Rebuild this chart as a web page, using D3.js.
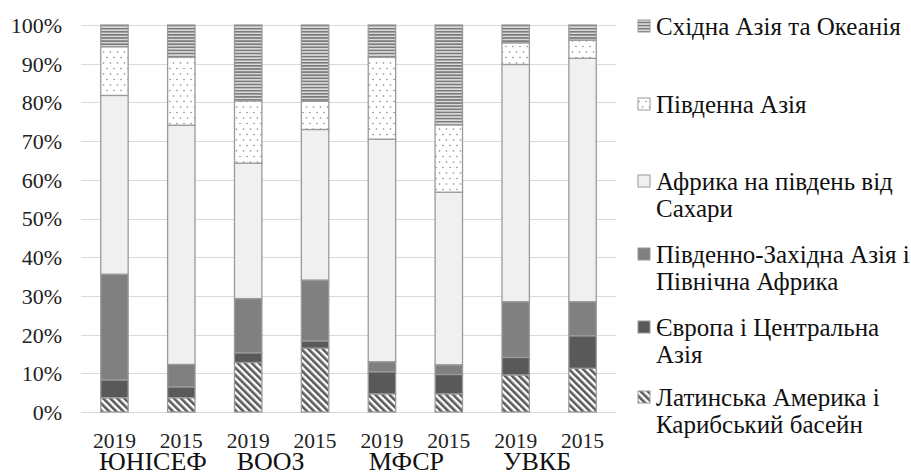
<!DOCTYPE html>
<html><head><meta charset="utf-8">
<script src="https://cdn.jsdelivr.net/npm/d3@7"></script>
<style>
body{margin:0;background:#fff;}
svg{display:block;}
svg text{font-family:"Liberation Serif","Times New Roman",serif !important;}
</style></head>
<body><svg id="c" width="911" height="476"></svg>
<script>
const years = ["2019","2015","2019","2015","2019","2015","2019","2015"];
const orgs = ["ЮНІСЕФ","ВООЗ","МФСР","УВКБ"];
const seriesNames = ["Латинська Америка і Карибський басейн","Європа і Центральна Азія","Південно-Західна Азія і Північна Африка","Африка на південь від Сахари","Південна Азія","Східна Азія та Океанія"];
const latin   = [3.7, 3.7, 12.8, 16.5, 4.7, 4.7, 9.6, 11.3];
const europe  = [4.6, 2.8, 2.5, 1.9, 5.7, 5.0, 4.5, 8.4];
const swAsia  = [27.3, 5.8, 14.0, 15.7, 2.6, 2.5, 14.4, 8.8];
const africa  = [46.2, 61.8, 35.0, 38.9, 57.5, 44.6, 61.3, 62.9];
const sAsia   = [12.6, 17.6, 16.1, 7.3, 21.2, 17.4, 5.6, 4.7];
const eAsia   = [5.6, 8.3, 19.6, 19.7, 8.3, 25.8, 4.6, 3.9];
const yTicks = [0,0.1,0.2,0.3,0.4,0.5,0.6,0.7,0.8,0.9,1];

const seriesVals = [latin, europe, swAsia, africa, sAsia, eAsia];
const rows = years.map((y,i)=>{
  const r = {key:i, year:y};
  seriesNames.forEach((n,j)=>{ r[n]=seriesVals[j][i]; });
  const tot = seriesNames.reduce((s,n)=>s+r[n],0);
  seriesNames.forEach(n=>{ r[n]=r[n]/tot; });
  return r;
});
const stacked = d3.stack().keys(seriesNames)(rows);

const svg = d3.select("#c");
const defs = svg.append("defs");
let p = defs.append("pattern").attr("id","pE").attr("patternUnits","userSpaceOnUse").attr("width",6).attr("height",3.1);
p.append("rect").attr("width",6).attr("height",3.1).attr("fill","#dcdcdc");
p.append("rect").attr("width",6).attr("height",1.6).attr("fill","#7a7a7a");
p = defs.append("pattern").attr("id","pS").attr("patternUnits","userSpaceOnUse").attr("width",7).attr("height",11);
p.append("rect").attr("width",7).attr("height",11).attr("fill","#fff");
p.append("circle").attr("cx",2).attr("cy",2.5).attr("r",0.8).attr("fill","#888");
p.append("circle").attr("cx",5.5).attr("cy",8).attr("r",0.8).attr("fill","#888");
p = defs.append("pattern").attr("id","pL").attr("patternUnits","userSpaceOnUse").attr("width",5).attr("height",5).attr("patternTransform","rotate(-45)");
p.append("rect").attr("width",5).attr("height",5).attr("fill","#fff");
p.append("rect").attr("width",2.6).attr("height",5).attr("fill","#5a5a5a");
const fills = ["url(#pL)","#595959","#808080","#f0f0f0","url(#pS)","url(#pE)"];

const x = d3.scaleBand().domain(d3.range(years.length)).range([81,616]).paddingInner(0.59).paddingOuter(0.295);
const y = d3.scaleLinear().domain([0,1]).range([412,25]);

svg.append("g").selectAll("line").data(yTicks).join("line")
  .attr("x1",81).attr("x2",616).attr("y1",d=>Math.round(y(d))+0.5).attr("y2",d=>Math.round(y(d))+0.5)
  .attr("stroke","#d9d9d9").attr("stroke-width",1.2);

const ya = svg.append("g").attr("transform","translate(62,0)").call(d3.axisLeft(y).tickValues(yTicks).tickFormat(d3.format(".0%")).tickSize(0).tickPadding(0));
ya.select(".domain").remove();
ya.selectAll("text").attr("font-size",22).attr("fill","#222").attr("dy","0.34em");

svg.append("g").selectAll("g").data(stacked).join("g").attr("fill",(d,i)=>fills[i])
  .selectAll("rect").data(d=>d).join("rect")
  .attr("x",d=>x(d.data.key)).attr("width",x.bandwidth())
  .attr("y",d=>y(d[1])).attr("height",d=>y(d[0])-y(d[1]))
  .attr("stroke","#9a9a9a").attr("stroke-width",1.3);

const xa = svg.append("g").attr("transform","translate(0,412)").call(d3.axisBottom(x).tickFormat(i=>years[i]).tickSize(0).tickPadding(0));
xa.select(".domain").remove();
xa.selectAll("text").attr("font-size",21.5).attr("fill","#222").attr("dy",0).attr("y",36);

const orgDx = [5,-11,-9,-12];
svg.append("g").selectAll("text").data(orgs).join("text")
  .attr("x",(d,i)=>(x(2*i)+x(2*i+1)+x.bandwidth())/2+orgDx[i]).attr("y",470)
  .attr("text-anchor","middle").attr("font-size",26).attr("fill","#111").text(d=>d);

const legendItems = [
  {s:5, lines:["Східна Азія та Океанія"], y:35},
  {s:4, lines:["Південна Азія"], y:113},
  {s:3, lines:["Африка на південь від","Сахари"], y:190},
  {s:2, lines:["Південно-Західна Азія і","Північна Африка"], y:263},
  {s:1, lines:["Європа і Центральна","Азія"], y:336},
  {s:0, lines:["Латинська Америка і","Карибський басейн"], y:406}
];
const lg = svg.append("g").selectAll("g").data(legendItems).join("g");
lg.append("rect").attr("x",638).attr("y",d=>d.y-15).attr("width",12).attr("height",12)
  .attr("fill",d=>fills[d.s]).attr("stroke","#9a9a9a").attr("stroke-width",1);
lg.each(function(d){
  const t = d3.select(this).append("text").attr("font-size",25).attr("fill","#111");
  d.lines.forEach((l,k)=>t.append("tspan").attr("x",656).attr("y",d.y+k*27).text(l));
});
</script></body></html>
